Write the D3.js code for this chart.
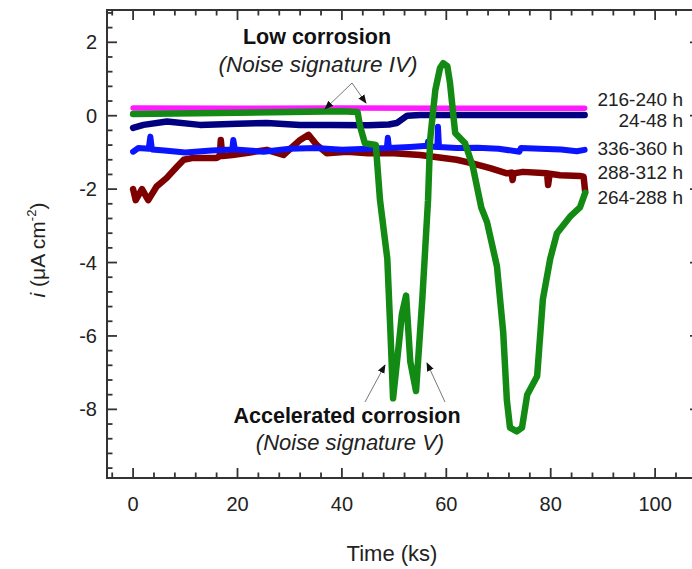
<!DOCTYPE html>
<html>
<head>
<meta charset="utf-8">
<script src="https://cdn.jsdelivr.net/npm/d3@7"></script>
<style>
  body { margin: 0; background: #fff; }
  svg { display: block; font-family: "Liberation Sans", Arial, sans-serif; }
</style>
</head>
<body>
<svg id="chart" width="692" height="569"></svg>
<script>
// ---- data (time in ks, current density in µA cm^-2) ----
const seriesNames = ["288-312 h", "336-360 h", "24-48 h", "216-240 h", "264-288 h"];
const seriesColors = ["#7f0000", "#0a14ff", "#000080", "#ff1aff", "#138a13"];

const red_288_312 = [
  [0,-2.0],[0.5,-2.3],[1.7,-2.0],[2.9,-2.3],[4.5,-1.93],[6.4,-1.7],[8.4,-1.39],[9.7,-1.2],
  [11.5,-1.15],[16,-1.15],[16.6,-1.1],[16.8,-0.66],[17.1,-1.1],[19,-1.07],[22.4,-1.0],[25.6,-0.93],
  [28.8,-1.07],[32,-0.66],[33.6,-0.52],[35.2,-0.8],[37.1,-1.02],[41,-0.98],[45,-1.02],[50,-1.02],
  [55,-1.07],[62,-1.2],[65,-1.3],[68.4,-1.43],[71.6,-1.57],[72.5,-1.55],[72.7,-1.75],[72.9,-1.57],
  [74.7,-1.53],[79.3,-1.57],[79.5,-1.89],[79.8,-1.58],[81.8,-1.62],[85.6,-1.64],[86.3,-1.66],[86.6,-2.07]
];
const blue_336_360 = [
  [0,-0.98],[1,-0.88],[3,-0.9],[3.3,-0.57],[3.6,-0.92],[6,-0.95],[10,-1.0],[15,-0.95],[19,-0.92],
  [19.2,-0.66],[19.5,-0.92],[25,-0.98],[30,-0.9],[35,-0.88],[40,-0.93],[45,-0.9],[48.6,-0.88],
  [48.8,-0.6],[49.0,-0.88],[53,-0.85],[56.4,-0.82],[56.5,-0.7],[56.7,-0.84],[58.3,-0.85],[58.4,-0.3],
  [58.6,-0.85],[62,-0.88],[66,-0.87],[70,-0.9],[74,-0.98],[74.3,-0.88],[78,-0.9],[82,-0.92],
  [85,-0.97],[86.5,-0.93]
];
const navy_24_48 = [
  [0,-0.33],[2,-0.25],[6.5,-0.16],[12.8,-0.25],[20,-0.22],[25.6,-0.2],[32,-0.25],[38,-0.25],
  [45,-0.26],[49,-0.24],[50.5,-0.2],[52.5,0.0],[55,0.02],[70,0.02],[86.5,0.02]
];
const magenta_216_240 = [
  [0,0.21],[20,0.2],[40,0.21],[60,0.2],[86.5,0.2]
];
const green_264_288 = [
  [0,0.05],[20,0.08],[40,0.12],[43,0.1],[43.5,-0.3],[44.4,-0.75],[46.5,-0.8],[47.3,-2.3],
  [48.7,-3.9],[49.3,-5.9],[49.8,-7.7],[51,-6.1],[51.5,-5.4],[52.3,-4.9],[53.1,-6.7],[54.2,-7.5],
  [55.4,-5.0],[56.5,-2.3],[56.9,-0.66],[57.9,0.7],[58.8,1.3],[59.4,1.43],[60.2,1.35],[60.7,0.9],
  [61.7,-0.47],[63.6,-0.75],[65.1,-1.4],[66.7,-2.5],[67.8,-2.9],[69.7,-4.1],[70.9,-5.9],
  [71.6,-7.75],[72.2,-8.5],[73.5,-8.6],[74.5,-8.5],[75.5,-7.6],[77.4,-7.1],[78.5,-5.0],
  [79.9,-3.9],[81.2,-3.2],[83.7,-2.75],[85.6,-2.5],[86.6,-2.1]
];
const seriesData = [red_288_312, blue_336_360, navy_24_48, magenta_216_240, green_264_288];

const xMajorTicks = [0, 20, 40, 60, 80, 100];
const yMajorTicks = [2, 0, -2, -4, -6, -8];
const labelOrder = ["216-240 h", "24-48 h", "336-360 h", "288-312 h", "264-288 h"];

// ---- layout ----
const svg = d3.select("#chart");
const L = 107, R = 700, T = 10, B = 478;
const x = d3.scaleLinear().domain([-5, 108.6]).range([L, R]);
const y = d3.scaleLinear().domain([-9.87, 2.88]).range([B, T]);
const axisColor = "#333";

// series
const line = d3.line().x(d => x(d[0])).y(d => y(d[1]));
const widths = [6.5, 6, 6.5, 5.5, 6.5];
seriesData.forEach((s, i) => {
  svg.append("path").datum(s).attr("d", line)
    .attr("fill", "none").attr("stroke", seriesColors[i])
    .attr("stroke-width", widths[i]).attr("stroke-linejoin", "round").attr("stroke-linecap", "round");
});

// ticks
const xMinor = d3.range(-4, 109, 4).filter(v => v % 20 !== 0);
const yMinor = d3.range(-24, 8).map(k => +(k * 0.4).toFixed(1)).filter(v => v >= -9.87 && v <= 2.88 && Math.abs(v % 2) > 1e-6);
const g = svg.append("g").attr("stroke", axisColor).attr("stroke-width", 1.8);
function tickX(v, len) {
  g.append("line").attr("x1", x(v)).attr("x2", x(v)).attr("y1", B).attr("y2", B - len);
  g.append("line").attr("x1", x(v)).attr("x2", x(v)).attr("y1", T).attr("y2", T + len);
}
function tickY(v, len) {
  g.append("line").attr("y1", y(v)).attr("y2", y(v)).attr("x1", L).attr("x2", L + len);
  g.append("line").attr("y1", y(v)).attr("y2", y(v)).attr("x1", R).attr("x2", R - len);
}
xMajorTicks.forEach(v => tickX(v, 10));
xMinor.forEach(v => tickX(v, 5.5));
yMajorTicks.forEach(v => tickY(v, 10));
yMinor.forEach(v => tickY(v, 5.5));
svg.append("rect").attr("x", L).attr("y", T).attr("width", R - L).attr("height", B - T)
  .attr("fill", "none").attr("stroke", axisColor).attr("stroke-width", 2);

// tick labels
svg.append("g").selectAll("text").data(xMajorTicks).join("text")
  .attr("x", d => x(d)).attr("y", 511).attr("text-anchor", "middle")
  .attr("font-size", 20).attr("fill", "#222").text(d => d);
svg.append("g").selectAll("text").data(yMajorTicks).join("text")
  .attr("x", 97).attr("y", d => y(d) + 7).attr("text-anchor", "end")
  .attr("font-size", 20).attr("fill", "#222").text(d => d);

// axis titles
svg.append("text").attr("x", 392).attr("y", 561).attr("text-anchor", "middle")
  .attr("font-size", 22).attr("fill", "#222").text("Time (ks)");
const yt = svg.append("text").attr("transform", "translate(45,250) rotate(-90)")
  .attr("text-anchor", "middle").attr("font-size", 21).attr("fill", "#222");
yt.append("tspan").attr("font-style", "italic").text("i");
yt.append("tspan").text(" (\u03bcA cm");
yt.append("tspan").attr("font-size", 13).attr("dy", -9).text("-2");
yt.append("tspan").attr("dy", 9).text(")");

// series labels on the right
const labelY = [106, 127, 155, 179, 204];
svg.append("g").selectAll("text").data(labelOrder).join("text")
  .attr("x", 683).attr("y", (d, i) => labelY[i]).attr("text-anchor", "end")
  .attr("font-size", 19).attr("fill", "#222").text(d => d);

// annotations
svg.append("defs").append("marker").attr("id", "ah").attr("viewBox", "0 0 10 10")
  .attr("refX", 9).attr("refY", 5).attr("markerWidth", 9).attr("markerHeight", 9)
  .attr("markerUnits", "userSpaceOnUse").attr("orient", "auto")
  .append("path").attr("d", "M0,1 L10,5 L0,9 Z").attr("fill", "#111");
const arrows = [
  [352, 83, 325, 109], [352, 83, 366, 103],
  [365, 402, 385, 365], [445, 402, 427, 363]
];
arrows.forEach(a => {
  svg.append("line").attr("x1", a[0]).attr("y1", a[1]).attr("x2", a[2]).attr("y2", a[3])
    .attr("stroke", "#777").attr("stroke-width", 1).attr("marker-end", "url(#ah)");
});
svg.append("text").attr("x", 317).attr("y", 44).attr("text-anchor", "middle")
  .attr("font-size", 21.5).attr("font-weight", "bold").attr("fill", "#111").text("Low corrosion");
svg.append("text").attr("x", 318).attr("y", 72).attr("text-anchor", "middle")
  .attr("font-size", 22.5).attr("font-style", "italic").attr("fill", "#222").text("(Noise signature IV)");
svg.append("text").attr("x", 347).attr("y", 423).attr("text-anchor", "middle")
  .attr("font-size", 21.5).attr("font-weight", "bold").attr("fill", "#111").text("Accelerated corrosion");
svg.append("text").attr("x", 350).attr("y", 450).attr("text-anchor", "middle")
  .attr("font-size", 22).attr("font-style", "italic").attr("fill", "#222").text("(Noise signature V)");
</script>
</body>
</html>
